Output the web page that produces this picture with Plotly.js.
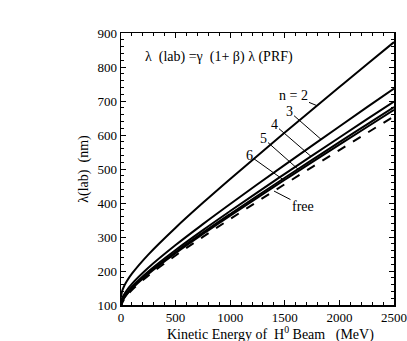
<!DOCTYPE html>
<html><head><meta charset="utf-8">
<script src="https://cdn.plot.ly/plotly-3.0.1.min.js"></script>
<style>html,body{margin:0;padding:0;background:#fff}#c{width:407px;height:341px}</style>
</head><body><div id="c"></div>
<script>
const energy = [0, 10, 25, 50, 100, 250, 500, 750, 1000, 1250, 1500, 1750, 2000, 2250, 2500];
const n2 = [121.6, 140.6, 153.0, 168.2, 192.1, 248.3, 327.4, 400.4, 470.6, 539.3, 607.1, 674.2, 740.9, 807.2, 873.3];
const n3 = [102.6, 118.7, 129.1, 141.9, 162.1, 209.5, 276.3, 337.8, 397.0, 455.0, 512.2, 568.8, 625.1, 681.1, 736.9];
const n4 = [97.3, 112.5, 122.4, 134.6, 153.7, 198.7, 261.9, 320.3, 376.4, 431.4, 485.6, 539.3, 592.7, 645.8, 698.6];
const n5 = [95.0, 109.9, 119.6, 131.4, 150.1, 194.0, 255.8, 312.8, 367.6, 421.3, 474.2, 526.7, 578.8, 630.6, 682.3];
const n6 = [93.8, 108.5, 118.1, 129.8, 148.2, 191.6, 252.6, 308.8, 363.0, 416.0, 468.3, 520.1, 571.5, 622.7, 673.7];
const free = [91.2, 105.5, 114.8, 126.2, 144.1, 186.3, 245.6, 300.3, 352.9, 404.5, 455.3, 505.7, 555.7, 605.4, 655.0];
const seriesNames = ['n = 2', '3', '4', '5', '6', 'free'];
const seriesData = [n2, n3, n4, n5, n6, free];
const labelX = [1795, 1832, 1740, 1621, 1493, 1401];
const labelOff = [[-24,-10],[-32,-28],[-37,-32],[-35,-31],[-35,-25],[29,15]];

const serif = 'Liberation Serif';
const traces = seriesData.map((d,i)=>({
  x: energy, y: d, type:'scatter', mode:'lines', name: seriesNames[i],
  line:{color:'#000', width: 2, dash: i===5?'dash':'solid', shape:'spline'},
  showlegend:false, hoverinfo:'skip'
}));

function interp(xs, ys, x){
  for(let i=0;i<xs.length-1;i++){
    if(x>=xs[i] && x<=xs[i+1]){const t=(x-xs[i])/(xs[i+1]-xs[i]);return ys[i]+t*(ys[i+1]-ys[i]);}
  }
  return ys[ys.length-1];
}
const anns = seriesData.map((d,i)=>({
  x: labelX[i], y: interp(energy, d, labelX[i]), xref:'x', yref:'y',
  text: seriesNames[i], showarrow:true, arrowhead:0, arrowwidth:1, arrowcolor:'#000',
  ax: labelOff[i][0], ay: labelOff[i][1], standoff:0,
  font:{family:serif, size:14, color:'#000'}
}));
anns.push({xref:'paper', yref:'paper', x:0.08, y:0.91, xanchor:'left', yanchor:'middle',
  text:'λ  (lab) =γ  (1+ β) λ (PRF)', showarrow:false, font:{family:serif, size:14, color:'#000'}});
anns.push({xref:'paper', yref:'paper', x:0.549, y:-0.103, xanchor:'center', yanchor:'middle',
  text:'Kinetic Energy of  H<sup>0</sup> Beam   (MeV)', showarrow:false, font:{family:serif, size:14, color:'#000'}});

const axisCommon = {
  showgrid:false, zeroline:false, showline:true, linecolor:'#000', linewidth:1.5,
  mirror:'allticks', ticks:'inside', ticklen:5, tickwidth:1, tickcolor:'#000',
  tickfont:{family:serif, size:13, color:'#000'}
};
const layout = {
  width:407, height:341, margin:{l:121, r:13, t:33, b:36},
  paper_bgcolor:'#fff', plot_bgcolor:'#fff',
  font:{family:serif, color:'#000'},
  xaxis: Object.assign({}, axisCommon, {range:[0,2500], dtick:500, tick0:0,
    minor:{dtick:100, ticks:'inside', ticklen:3, tickcolor:'#000', showgrid:false}}),
  yaxis: Object.assign({}, axisCommon, {range:[100,900], dtick:100, tick0:100,
    minor:{dtick:20, ticks:'inside', ticklen:3, tickcolor:'#000', showgrid:false},
    title:{text:'λ(lab)  (nm)', font:{family:serif, size:14, color:'#000'}, standoff:5}}),
  annotations: anns
};
Plotly.newPlot('c', traces, layout, {staticPlot:true, displayModeBar:false});
</script></body></html>
